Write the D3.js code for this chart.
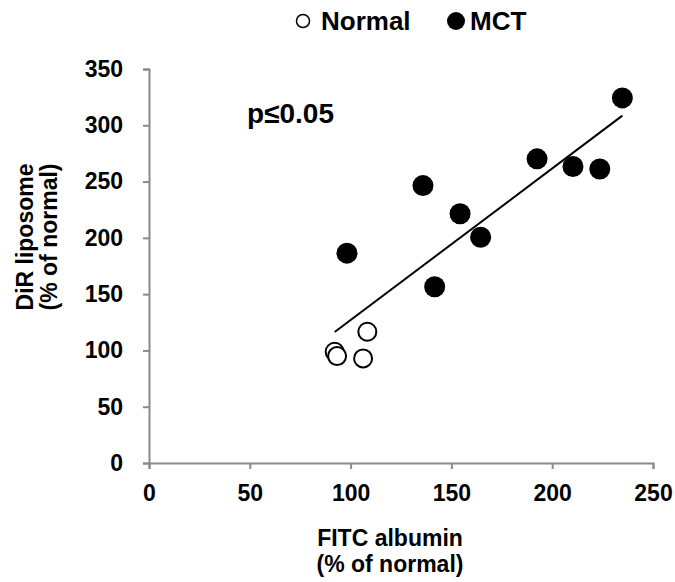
<!DOCTYPE html>
<html>
<head>
<meta charset="utf-8">
<script src="https://cdn.jsdelivr.net/npm/d3@7"></script>
<style>
  body { margin: 0; background: #fff; }
  text { font-family: "Liberation Sans", Arial, sans-serif; font-weight: bold; fill: #000; }
</style>
</head>
<body>
<script>
// values (% of normal)
var normalX = [108.3, 92.1, 93.3, 106.2];
var normalY = [116.6, 98.8, 95.0, 92.9];
var mctX = [98.2, 135.9, 154.3, 164.5, 141.7, 192.5, 210.3, 223.6, 234.8];
var mctY = [186.4, 246.4, 221.4, 200.5, 156.6, 270.2, 263.4, 261.2, 324.3];
var xTicks = [0, 50, 100, 150, 200, 250];
var yTicks = [0, 50, 100, 150, 200, 250, 300, 350];

var W = 675, H = 582;
var margin = { top: 69, right: 22, bottom: 119, left: 149 };

var svg = d3.select("body").append("svg")
    .attr("width", W)
    .attr("height", H);

var xScale = d3.scaleLinear().domain([0, 250]).range([margin.left, W - margin.right]);
var yScale = d3.scaleLinear().domain([0, 350]).range([H - margin.bottom, margin.top]);

// axes
var xAxis = svg.append("g")
    .attr("transform", "translate(0," + yScale(0) + ")")
    .call(d3.axisBottom(xScale).tickValues(xTicks).tickSize(6).tickPadding(11));
var yAxis = svg.append("g")
    .attr("transform", "translate(" + xScale(0) + ",0)")
    .call(d3.axisLeft(yScale).tickValues(yTicks).tickSize(6).tickPadding(20));

[xAxis, yAxis].forEach(function (ax) {
  ax.select(".domain").attr("stroke", "#8a8a8a").attr("stroke-width", 2);
  ax.selectAll(".tick line").attr("stroke", "#8a8a8a").attr("stroke-width", 2);
  ax.selectAll(".tick text").style("font-size", "23px").attr("fill", "#000");
});
xAxis.selectAll(".tick text").attr("dy", "0.9em");

// trend line (least squares over all points)
var allX = normalX.concat(mctX), allY = normalY.concat(mctY);
var mx = d3.mean(allX), my = d3.mean(allY);
var sxy = d3.sum(allX, function (v, i) { return (v - mx) * (allY[i] - my); });
var sxx = d3.sum(allX, function (v) { return (v - mx) * (v - mx); });
var slope = sxy / sxx, icpt = my - slope * mx;
var x0 = d3.min(allX), x1 = d3.max(allX);
svg.append("line")
    .attr("x1", xScale(x0)).attr("y1", yScale(icpt + slope * x0))
    .attr("x2", xScale(x1)).attr("y2", yScale(icpt + slope * x1))
    .attr("stroke", "#000").attr("stroke-width", 2);

// points
svg.selectAll(".mct")
    .data(mctX)
    .enter().append("circle")
    .attr("class", "mct")
    .attr("cx", function (d) { return xScale(d); })
    .attr("cy", function (d, i) { return yScale(mctY[i]); })
    .attr("r", 10.5)
    .attr("fill", "#000");

svg.selectAll(".normal")
    .data(normalX)
    .enter().append("circle")
    .attr("class", "normal")
    .attr("cx", function (d) { return xScale(d); })
    .attr("cy", function (d, i) { return yScale(normalY[i]); })
    .attr("r", 9)
    .attr("fill", "#fff")
    .attr("stroke", "#000")
    .attr("stroke-width", 2);

// p value
svg.append("text")
    .attr("x", 247).attr("y", 123)
    .style("font-size", "28px")
    .text("p≤0.05");

// legend
svg.append("circle").attr("cx", 303).attr("cy", 21).attr("r", 6.5)
    .attr("fill", "#fff").attr("stroke", "#000").attr("stroke-width", 1.5);
svg.append("text").attr("x", 321).attr("y", 30).style("font-size", "26px").text("Normal");
svg.append("circle").attr("cx", 456).attr("cy", 21).attr("r", 9).attr("fill", "#000");
svg.append("text").attr("x", 470).attr("y", 30).style("font-size", "26px").text("MCT");

// axis titles
var xt = svg.append("text")
    .attr("text-anchor", "middle")
    .style("font-size", "23px");
xt.append("tspan").attr("x", 390).attr("y", 546).text("FITC albumin");
xt.append("tspan").attr("x", 390).attr("y", 572).text("(% of normal)");

var yt = svg.append("text")
    .attr("text-anchor", "middle")
    .attr("transform", "translate(0,237) rotate(-90)")
    .style("font-size", "23px");
yt.append("tspan").attr("x", 0).attr("y", 33).text("DiR liposome");
yt.append("tspan").attr("x", 0).attr("y", 57).text("(% of normal)");
</script>
</body>
</html>
